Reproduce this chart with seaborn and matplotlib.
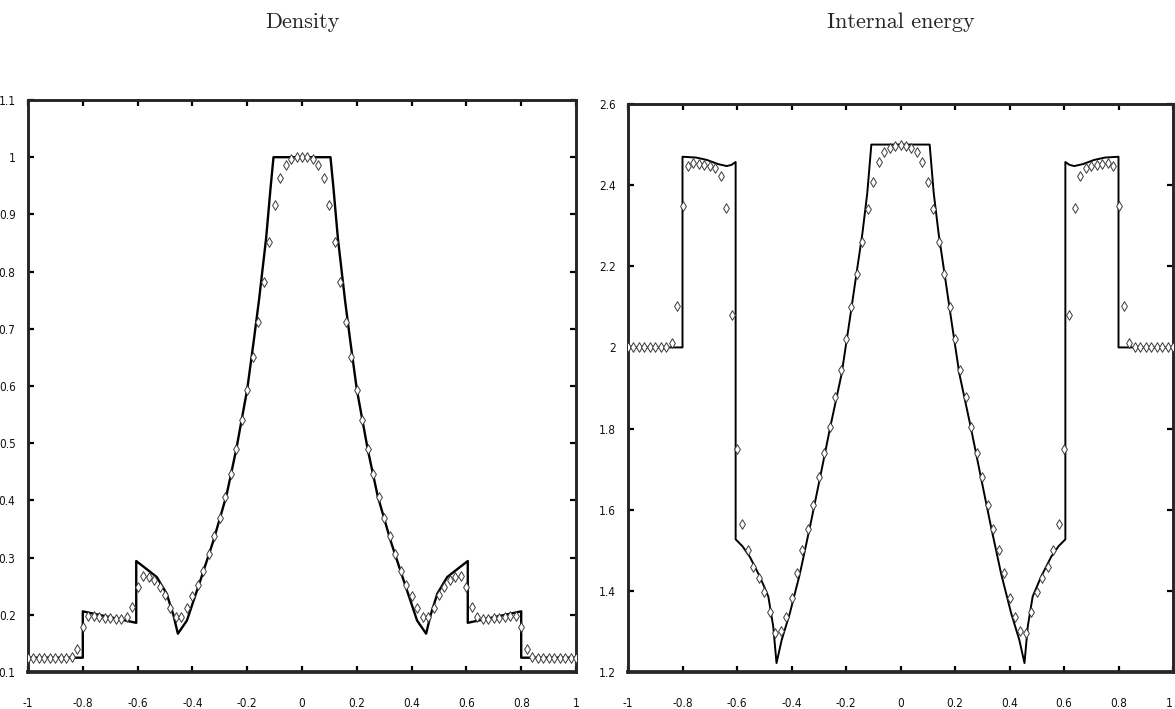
import numpy as np
import pandas as pd
import matplotlib
matplotlib.use("Agg")
import matplotlib.pyplot as plt
import seaborn as sns

# ---- exact solution (solid line) ----
dens_line_x = [-1.0, -0.8, -0.8, -0.605, -0.605, -0.57, -0.53, -0.494, -0.469, -0.453,
               -0.42, -0.371, -0.323, -0.276, -0.24, -0.20, -0.175, -0.157, -0.131, -0.115,
               -0.104, 0.104, 0.115, 0.131, 0.157, 0.175, 0.20, 0.24, 0.276, 0.323,
               0.371, 0.42, 0.453, 0.469, 0.494, 0.53, 0.57, 0.605, 0.605, 0.8, 0.8, 1.0]
dens_line_y = [0.125, 0.125, 0.206, 0.186, 0.294, 0.281, 0.266, 0.237, 0.199, 0.167,
               0.190, 0.260, 0.330, 0.408, 0.489, 0.594, 0.683, 0.750, 0.858, 0.945,
               1.0, 1.0, 0.945, 0.858, 0.750, 0.683, 0.594, 0.489, 0.408, 0.330,
               0.260, 0.190, 0.167, 0.199, 0.237, 0.266, 0.281, 0.294, 0.186, 0.206, 0.125, 0.125]

ener_line_x = [-1.0, -0.8, -0.8, -0.75, -0.71, -0.67, -0.638, -0.62, -0.605, -0.605,
               -0.58, -0.553, -0.516, -0.485, -0.467, -0.455, -0.436, -0.406, -0.369, -0.33,
               -0.295, -0.258, -0.216, -0.187, -0.162, -0.14, -0.122, -0.107,
               0.107, 0.122, 0.14, 0.162, 0.187, 0.216, 0.258, 0.295,
               0.33, 0.369, 0.406, 0.436, 0.455, 0.467, 0.485, 0.516, 0.553, 0.58,
               0.605, 0.605, 0.62, 0.638, 0.67, 0.71, 0.75, 0.8, 0.8, 1.0]
ener_line_y = [2.0, 2.0, 2.47, 2.468, 2.462, 2.452, 2.447, 2.45, 2.457, 1.527,
               1.51, 1.484, 1.435, 1.386, 1.312, 1.222, 1.279, 1.345, 1.443, 1.565,
               1.68, 1.803, 1.935, 2.065, 2.18, 2.28, 2.38, 2.5,
               2.5, 2.38, 2.28, 2.18, 2.065, 1.935, 1.803, 1.68,
               1.565, 1.443, 1.345, 1.279, 1.222, 1.312, 1.386, 1.435, 1.484, 1.51,
               1.527, 2.457, 2.45, 2.447, 2.452, 2.462, 2.468, 2.47, 2.0, 2.0]

# ---- numerical solution (diamonds), cells at x = -1.00, -0.98, ..., 1.00 ----
cell_x = np.round(np.arange(-1.0, 1.0001, 0.02), 2)

dens_pts = [0.125, 0.125, 0.125, 0.125, 0.125, 0.125, 0.125, 0.125, 0.127, 0.140,
            0.179, 0.198, 0.198, 0.196, 0.195, 0.194, 0.193, 0.192, 0.197, 0.214,
            0.249, 0.267, 0.266, 0.261, 0.248, 0.235, 0.212, 0.196, 0.197, 0.212,
            0.232, 0.252, 0.277, 0.306, 0.337, 0.370, 0.406, 0.447, 0.489, 0.541,
            0.593, 0.651, 0.712, 0.782, 0.851, 0.916, 0.964, 0.986, 0.997, 1.000,
            1.000,
            1.000, 0.997, 0.986, 0.964, 0.916, 0.851, 0.782, 0.712, 0.651, 0.593,
            0.541, 0.489, 0.447, 0.406, 0.370, 0.337, 0.306, 0.277, 0.252, 0.232,
            0.212, 0.197, 0.196, 0.212, 0.235, 0.248, 0.261, 0.266, 0.267, 0.249,
            0.214, 0.197, 0.192, 0.193, 0.194, 0.195, 0.196, 0.198, 0.198, 0.179,
            0.140, 0.127, 0.125, 0.125, 0.125, 0.125, 0.125, 0.125, 0.125, 0.125]

ener_pts = [2.000, 2.000, 2.000, 2.000, 2.000, 2.000, 2.000, 2.000, 2.011, 2.101,
            2.349, 2.447, 2.455, 2.451, 2.450, 2.447, 2.443, 2.422, 2.343, 2.081,
            1.750, 1.566, 1.500, 1.458, 1.431, 1.398, 1.349, 1.297, 1.300, 1.336,
            1.382, 1.443, 1.500, 1.553, 1.611, 1.680, 1.741, 1.803, 1.878, 1.944,
            2.020, 2.099, 2.181, 2.261, 2.341, 2.408, 2.457, 2.482, 2.492, 2.497,
            2.498,
            2.497, 2.492, 2.482, 2.457, 2.408, 2.341, 2.261, 2.181, 2.099, 2.020,
            1.944, 1.878, 1.803, 1.741, 1.680, 1.611, 1.553, 1.500, 1.443, 1.382,
            1.336, 1.300, 1.297, 1.349, 1.398, 1.431, 1.458, 1.500, 1.566, 1.750,
            2.081, 2.343, 2.422, 2.443, 2.447, 2.450, 2.451, 2.455, 2.447, 2.349,
            2.101, 2.011, 2.000, 2.000, 2.000, 2.000, 2.000, 2.000, 2.000, 2.000]

x_ticks = [-1, -0.8, -0.6, -0.4, -0.2, 0, 0.2, 0.4, 0.6, 0.8, 1]
x_tick_labels = ["-1", "-0.8", "-0.6", "-0.4", "-0.2", "0", "0.2", "0.4", "0.6", "0.8", "1"]
dens_ticks = [0.1, 0.2, 0.3, 0.4, 0.5, 0.6, 0.7, 0.8, 0.9, 1.0, 1.1]
dens_tick_labels = ["0.1", "0.2", "0.3", "0.4", "0.5", "0.6", "0.7", "0.8", "0.9", "1", "1.1"]
ener_ticks = [1.2, 1.4, 1.6, 1.8, 2.0, 2.2, 2.4, 2.6]
ener_tick_labels = ["1.2", "1.4", "1.6", "1.8", "2", "2.2", "2.4", "2.6"]
titles = ["Density", "Internal energy"]

sns.set_style("ticks")
plt.rcParams["axes.unicode_minus"] = False

fig = plt.figure(figsize=(11.75, 7.09), dpi=100)
ax_d = fig.add_axes([28 / 1175, 37 / 709, 548 / 1175, 572 / 709])
ax_e = fig.add_axes([628 / 1175, 37 / 709, 545 / 1175, 568 / 709])

panels = [
    (ax_d, dens_line_x, dens_line_y, dens_pts, (0.1, 1.1), dens_ticks, dens_tick_labels, 1.7),
    (ax_e, ener_line_x, ener_line_y, ener_pts, (1.2, 2.6), ener_ticks, ener_tick_labels, 1.4),
]

for ax, lx, ly, pts, ylim, yt, ytl, lw in panels:
    line_df = pd.DataFrame({"x": lx, "y": ly})
    pts_df = pd.DataFrame({"x": cell_x, "y": pts})
    sns.lineplot(data=line_df, x="x", y="y", ax=ax, estimator=None, sort=False,
                 color="black", linewidth=lw, zorder=2)
    sns.scatterplot(data=pts_df, x="x", y="y", ax=ax, marker="d", s=24,
                    facecolor="white", edgecolor="#3a3a3a", linewidth=0.7, zorder=3)
    ax.set_xlim(-1, 1)
    ax.set_ylim(*ylim)
    ax.set_xticks(x_ticks)
    ax.set_xticklabels(x_tick_labels)
    ax.set_yticks(yt)
    ax.set_yticklabels(ytl)
    ax.set_xlabel("")
    ax.set_ylabel("")
    for side in ["top", "left", "right"]:
        ax.spines[side].set_linewidth(2.1)
        ax.spines[side].set_visible(True)
    ax.spines["bottom"].set_linewidth(2.7)
    ax.tick_params(axis="both", which="major", direction="in", top=True, right=True,
                   length=4, width=1.6, color="black", labelsize=8.5)
    ax.tick_params(axis="x", pad=18)
    ax.tick_params(axis="y", pad=9)
    for lab in ax.get_xticklabels() + ax.get_yticklabels():
        lab.set_fontfamily("DejaVu Sans")
        lab.set_fontstretch("condensed")
        lab.set_color("#111111")

# keep the last x label of the right panel inside the figure
ax_e.get_xticklabels()[-1].set_horizontalalignment("right")

fig.text(302 / 1175, 1 - 22 / 709, titles[0], ha="center", va="center",
         fontsize=16, fontfamily="cmr10")
fig.text(901 / 1175, 1 - 22 / 709, titles[1], ha="center", va="center",
         fontsize=16, fontfamily="cmr10")

fig.savefig("out.png", dpi=100, facecolor="white")
